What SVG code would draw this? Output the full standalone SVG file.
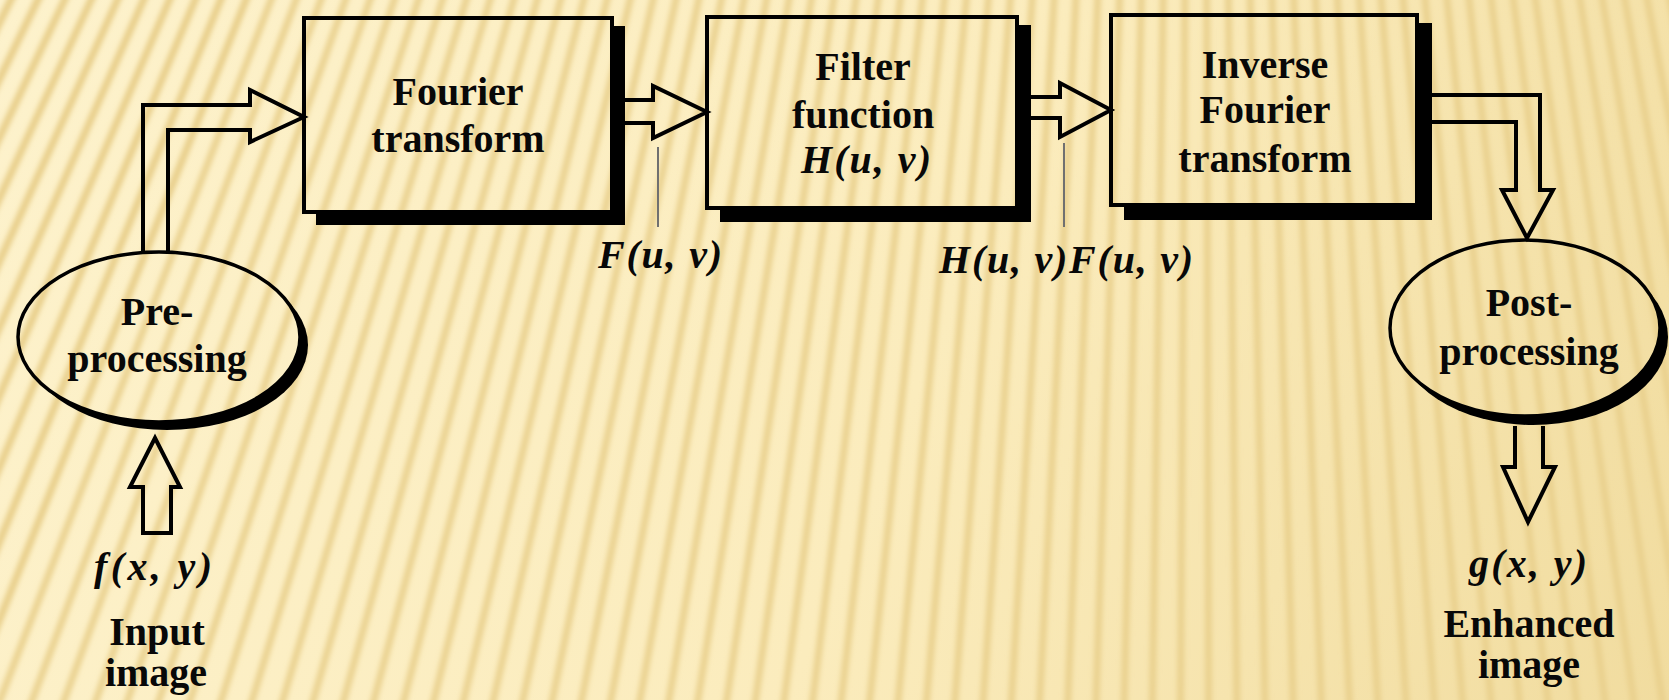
<svg xmlns="http://www.w3.org/2000/svg" width="1669" height="700" viewBox="0 0 1669 700">
  <style>
    .box { fill: none; stroke: #000; stroke-width: 4; }
    .shadow { fill: #000; }
    .oval { fill: none; stroke: #000; stroke-width: 3.5; }
    .arrow { fill: none; stroke: #000; stroke-width: 4; stroke-linejoin: miter; }
    .lead { stroke: #707070; stroke-width: 2; }
    text { font-family: "Liberation Serif", "Times New Roman", serif; font-size: 40px; font-weight: bold; fill: #080808; text-anchor: middle; }
    .math { font-style: italic; }
  </style>
  <defs>
    <linearGradient id="paper" x1="0" y1="0" x2="1669" y2="700" gradientUnits="userSpaceOnUse">
      <stop offset="0" stop-color="#fdf2cc"/>
      <stop offset="0.55" stop-color="#fbecbd"/>
      <stop offset="1" stop-color="#f1dc9f"/>
    </linearGradient>
    <linearGradient id="streak" x1="0" y1="0" x2="1669" y2="0" gradientUnits="userSpaceOnUse">
      <stop offset="0" stop-color="#efd799"/>
      <stop offset="1" stop-color="#e6cc86"/>
    </linearGradient>
    <filter id="soft" filterUnits="userSpaceOnUse" x="0" y="0" width="1669" height="700">
      <feGaussianBlur stdDeviation="2.6"/>
    </filter>
    <!-- one streak running down from the fan apex; copies are rotated about it -->
    <line id="s0" x1="1200" y1="-2400" x2="1200" y2="1300"/>
    <g id="s1"><use href="#s0"/><use href="#s0" transform="rotate(0.52 1200 -2400)"/></g>
    <g id="s2"><use href="#s1"/><use href="#s1" transform="rotate(1.04 1200 -2400)"/></g>
    <g id="s4"><use href="#s2"/><use href="#s2" transform="rotate(2.08 1200 -2400)"/></g>
    <g id="s8"><use href="#s4"/><use href="#s4" transform="rotate(4.16 1200 -2400)"/></g>
    <g id="s16"><use href="#s8"/><use href="#s8" transform="rotate(8.32 1200 -2400)"/></g>
    <g id="s32"><use href="#s16"/><use href="#s16" transform="rotate(16.64 1200 -2400)"/></g>
    <g id="s64"><use href="#s32"/><use href="#s32" transform="rotate(33.28 1200 -2400)"/></g>
    <mask id="cutPre" maskUnits="userSpaceOnUse" x="0" y="0" width="1669" height="700">
      <rect width="1669" height="700" fill="#fff"/>
      <ellipse cx="159" cy="337" rx="141" ry="85" fill="#000"/>
    </mask>
    <mask id="cutPost" maskUnits="userSpaceOnUse" x="0" y="0" width="1669" height="700">
      <rect width="1669" height="700" fill="#fff"/>
      <ellipse cx="1525" cy="328" rx="135" ry="88" fill="#000"/>
    </mask>
  </defs>

  <!-- streaked paper background -->
  <rect width="1669" height="700" fill="url(#paper)"/>
  <g stroke="url(#streak)" stroke-width="7" stroke-opacity="0.9" filter="url(#soft)">
    <g transform="rotate(-11.6 1200 -2400)">
      <use href="#s64"/>
      <use href="#s8" transform="rotate(33.28 1200 -2400)"/>
      <use href="#s4" transform="rotate(37.44 1200 -2400)"/>
    </g>
  </g>

  <!-- processing blocks -->
  <g id="node-fourier">
    <rect class="shadow" x="612" y="26" width="13" height="199"/>
    <rect class="shadow" x="316" y="212" width="309" height="13"/>
    <rect class="box" x="304" y="18" width="308" height="194"/>
    <text x="458" y="105">Fourier</text>
    <text x="458" y="152">transform</text>
  </g>

  <g id="node-filter">
    <rect class="shadow" x="1017" y="25" width="14" height="197"/>
    <rect class="shadow" x="720" y="208" width="311" height="14"/>
    <rect class="box" x="707" y="17" width="310" height="191"/>
    <text x="863" y="80">Filter</text>
    <text x="863" y="128">function</text>
    <text class="math" x="866" y="173" textLength="130" lengthAdjust="spacing">H(u, v)</text>
  </g>

  <g id="node-inverse">
    <rect class="shadow" x="1417" y="23" width="15" height="197"/>
    <rect class="shadow" x="1124" y="205" width="308" height="15"/>
    <rect class="box" x="1111" y="15" width="306" height="190"/>
    <text x="1265" y="78">Inverse</text>
    <text x="1265" y="123">Fourier</text>
    <text x="1265" y="172">transform</text>
  </g>

  <g id="node-pre">
    <ellipse class="shadow" cx="167" cy="345" rx="141" ry="85" mask="url(#cutPre)"/>
    <ellipse class="oval" cx="159" cy="337" rx="141" ry="85"/>
    <text x="157" y="325">Pre-</text>
    <text x="157" y="372">processing</text>
  </g>

  <g id="node-post">
    <ellipse class="shadow" cx="1533" cy="337" rx="135" ry="88" mask="url(#cutPost)"/>
    <ellipse class="oval" cx="1525" cy="328" rx="135" ry="88"/>
    <text x="1529" y="316">Post-</text>
    <text x="1529" y="365">processing</text>
  </g>

  <g id="node-input">
    <text class="math" x="153" y="580" textLength="118" lengthAdjust="spacing">f(x, y)</text>
    <text x="157" y="645">Input</text>
    <text x="156" y="686">image</text>
  </g>

  <g id="node-output">
    <text class="math" x="1528" y="577" textLength="118" lengthAdjust="spacing">g(x, y)</text>
    <text x="1529" y="637">Enhanced</text>
    <text x="1529" y="678">image</text>
  </g>

  <!-- hollow block arrows and signal labels -->
  <g id="connectors">
    <polyline class="arrow" points="143,252 143,105 250,105 250,90 304,117 250,142 250,130 168,130 168,252"/>
    <polyline class="arrow" points="625,100 653,100 653,86 707,112 653,138 653,123 625,123"/>
    <polyline class="arrow" points="1031,97 1060,97 1060,83 1111,110 1060,137 1060,118 1031,118"/>
    <polyline class="arrow" points="1420,95 1540,95 1540,190 1553,190 1527,238 1502,190 1516,190 1516,122 1432,122"/>
    <polygon class="arrow" points="143,533 143,487 130,487 155,438 180,487 171,487 171,533"/>
    <polyline class="arrow" points="1515,426 1515,467 1503,467 1528,522 1555,467 1543,467 1543,426"/>

    <line class="lead" x1="658" y1="147" x2="658" y2="227"/>
    <line class="lead" x1="1064" y1="143" x2="1064" y2="227"/>
    <text class="math" x="660" y="268" textLength="124" lengthAdjust="spacing">F(u, v)</text>
    <text class="math" x="1066" y="273" textLength="254" lengthAdjust="spacing">H(u, v)F(u, v)</text>
  </g>
</svg>
